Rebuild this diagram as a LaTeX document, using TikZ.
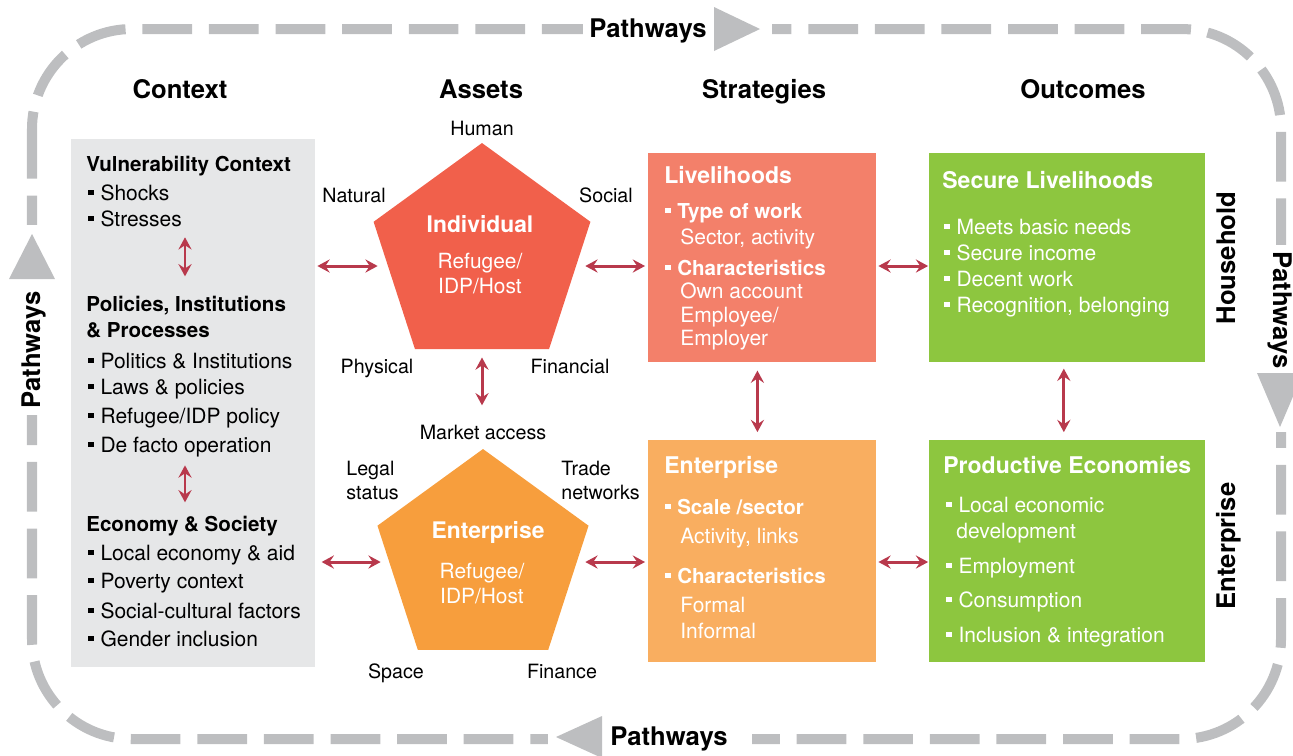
\documentclass[tikz,border=0pt]{standalone}
\usepackage{fontspec}
\setmainfont{TeX Gyre Heros}
\usetikzlibrary{shapes.geometric,arrows.meta}

\definecolor{framegray}{HTML}{BDBEC0}
\definecolor{ctxgray}{HTML}{E6E7E8}
\definecolor{indred}{HTML}{F1604B}
\definecolor{entorange}{HTML}{F79E3D}
\definecolor{livsalmon}{HTML}{F3806A}
\definecolor{entlight}{HTML}{F9AE60}
\definecolor{outgreen}{HTML}{8DC63F}
\definecolor{arrowred}{HTML}{B8394C}

\newcommand\bul{\makebox[0.58em][l]{\rule[0.24em]{0.25em}{0.24em}}}

\tikzset{
  frame/.style={draw=framegray, line width=5.7pt, dash pattern=on 28.3pt off 9.6pt},
  hdr/.style={font=\fontsize{14.6}{17}\selectfont\bfseries, anchor=base, inner sep=0pt},
  box/.style={anchor=north west, inner sep=0pt, draw=none},
  pent/.style={regular polygon, regular polygon sides=5, inner sep=0pt, draw=none},
  lbl/.style={font=\fontsize{11.2}{13}\selectfont, anchor=base, inner sep=0pt},
  txt/.style={font=\fontsize{11.95}{14}\selectfont, anchor=base west, inner sep=0pt},
  ctxttl/.style={txt, font=\fontsize{11.7}{14}\selectfont\bfseries},
  wtxt/.style={txt, text=white},
  wbold/.style={wtxt, font=\fontsize{11.7}{14}\selectfont\bfseries},
  wttl/.style={wtxt, font=\fontsize{13.1}{15}\selectfont\bfseries},
  ptxt/.style={font=\fontsize{11.9}{14}\selectfont, text=white, anchor=base, inner sep=0pt},
  pttl/.style={ptxt, font=\fontsize{13}{15}\selectfont\bfseries},
  dbl/.style={draw=arrowred, line width=1.7pt,
    {Stealth[length=7pt,width=7.5pt,inset=2.5pt]}-{Stealth[length=7pt,width=7.5pt,inset=2.5pt]}},
}

\begin{document}
\begin{tikzpicture}[x=0.02cm, y=-0.02cm]
  \useasboundingbox (0,0) rectangle (1293,755);

  % pathways frame
  \draw[frame, rounded corners=2cm] (32,29) rectangle (1281,739);
  \fill[white] (583,18) rectangle (772,40);
  \fill[white] (548,728) rectangle (752,750);
  \fill[white] (21,225) rectangle (43,415);
  \fill[white] (1270,245) rectangle (1292,432);
  \fill[framegray] (714,7) -- (760,29) -- (714,51) -- cycle;
  \fill[framegray] (556,737) -- (602,716) -- (602,758) -- cycle;
  \fill[framegray] (32,234) -- (55,279) -- (9,279) -- cycle;
  \fill[framegray] (1257,373) -- (1303,373) -- (1280,427) -- cycle;
  \node[hdr] (pwtop) at (648,37) {Pathways};
  \node[hdr] (pwbot) at (669,745) {Pathways};
  \node[hdr, rotate=90] (pwleft) at (40,350) {Pathways};
  \node[hdr, rotate=-90] (pwright) at (1273,310) {Pathways};

  % column headers
  \node[hdr] (hctx) at (180,98) {Context};
  \node[hdr] (hast) at (481,98) {Assets};
  \node[hdr] (hstr) at (764,98) {Strategies};
  \node[hdr] (hout) at (1083,98) {Outcomes};
  \node[hdr, rotate=90] (hhh) at (1235,258) {Household};
  \node[hdr, rotate=90] (hent) at (1235,546) {Enterprise};

  % context
  \node[box, fill=ctxgray, minimum width=4.88cm, minimum height=10.56cm] (ctx) at (71,139) {};
  \node[ctxttl] (vc) at (86,171) {Vulnerability Context};
  \foreach \t [count=\i] in {Shocks, Stresses}
    \node[txt] (vc-\i) at (88,{200+26*(\i-1)}) {\bul\t};
  \node[ctxttl] (pip) at (86,311) {Policies, Institutions};
  \node[ctxttl] (pip2) at (86,337) {\& Processes};
  \foreach \t/\y [count=\i] in {Politics \& Institutions/368, Laws \& policies/394,
      {Refugee/IDP policy}/423, De facto operation/452}
    \node[txt] (pi-\i) at (88,\y) {\bul\t};
  \node[ctxttl] (eco) at (86,531) {Economy \& Society};
  \foreach \t/\y [count=\i] in {Local economy \& aid/560, Poverty context/588,
      Social-cultural factors/618, Gender inclusion/646}
    \node[txt] (ec-\i) at (88,\y) {\bul\t};

  % assets
  \node[pent, fill=indred, minimum size=4.56cm] (ind) at (482,257) {};
  \node[pttl] (indt) at (480,232) {Individual};
  \node[ptxt] (ind1) at (480,268) {Refugee/};
  \node[ptxt] (ind2) at (480,293) {IDP/Host};
  \node[lbl] (human) at (482,135) {Human};
  \node[lbl] (natural) at (354,202) {Natural};
  \node[lbl] (social) at (606,202) {Social};
  \node[lbl] (physical) at (377,373) {Physical};
  \node[lbl] (financial) at (570,373) {Financial};

  \node[pent, fill=entorange, minimum size=4.44cm] (entp) at (483,560) {};
  \node[pttl] (entt) at (488,538) {Enterprise};
  \node[ptxt] (ent1) at (482,578) {Refugee/};
  \node[ptxt] (ent2) at (482,603) {IDP/Host};
  \node[lbl] (mkt) at (483,439) {Market access};
  \node[lbl, anchor=base west] (legal) at (346,475) {Legal};
  \node[lbl, anchor=base west] (legal2) at (346,499) {status};
  \node[lbl, anchor=base west] (trade) at (561,475) {Trade};
  \node[lbl, anchor=base west] (trade2) at (561,499) {networks};
  \node[lbl] (space) at (396,678) {Space};
  \node[lbl] (finance) at (562,678) {Finance};

  % strategies
  \node[box, fill=livsalmon, minimum width=4.56cm, minimum height=4.18cm] (liv) at (648,153) {};
  \node[wttl] (livt) at (664,183) {Livelihoods};
  \node[wbold] (liv1) at (665,218) {\bul Type of work};
  \node[wtxt] (liv2) at (680,244) {Sector, activity};
  \node[wbold] (liv3) at (665,275) {\bul Characteristics};
  \node[wtxt] (liv4) at (680,298) {Own account};
  \node[wtxt] (liv5) at (680,322) {Employee/};
  \node[wtxt] (liv6) at (680,345) {Employer};

  \node[box, fill=entlight, minimum width=4.56cm, minimum height=4.44cm] (ent) at (648,440) {};
  \node[wttl] (entbt) at (664,473) {Enterprise};
  \node[wbold] (ent3) at (665,514) {\bul Scale /sector};
  \node[wtxt] (ent4) at (680,543) {Activity, links};
  \node[wbold] (ent5) at (665,583) {\bul Characteristics};
  \node[wtxt] (ent6) at (680,612) {Formal};
  \node[wtxt] (ent7) at (680,638) {Informal};

  % outcomes
  \node[box, fill=outgreen, minimum width=5.52cm, minimum height=4.18cm] (sec) at (929,153) {};
  \node[wttl] (sect) at (942,188) {Secure Livelihoods};
  \foreach \t [count=\i] in {Meets basic needs, Secure income, Decent work, {Recognition, belonging}}
    \node[wtxt] (sec-\i) at (944,{234+26*(\i-1)}) {\bul\t};

  \node[box, fill=outgreen, minimum width=5.52cm, minimum height=4.44cm] (prod) at (929,440) {};
  \node[wttl] (prodt) at (943,473) {Productive Economies};
  \node[wtxt] (prod1) at (946,512) {\bul Local economic};
  \node[wtxt] (prod2) at (956,538) {development};
  \foreach \t/\y [count=\i from 3] in {Employment/573, Consumption/607, Inclusion \& integration/642}
    \node[wtxt] (prod\i) at (946,\y) {\bul\t};

  % connectors
  \coordinate (row1) at (0,266);
  \coordinate (row2) at (0,562);
  \coordinate (ctxarr) at (185,0);
  \draw[dbl, shorten <=6pt, shorten >=10.8pt] (vc-2.south -| ctxarr) -- (pip.north -| ctxarr);
  \draw[dbl, shorten <=4.8pt, shorten >=7.4pt] (pi-4.south -| ctxarr) -- (eco.north -| ctxarr);
  \draw[dbl, shorten <=1pt, shorten >=4pt] (ctx.east |- row1) -- (ind.west |- row1);
  \draw[dbl, shorten <=3.4pt, shorten >=1.7pt] (ind.east |- row1) -- (liv.west |- row1);
  \draw[dbl, shorten <=1pt, shorten >=0.5pt] (liv.east |- row1) -- (sec.west |- row1);
  \draw[dbl, shorten <=3.4pt, shorten >=4.3pt] (ctx.east |- row2) -- (entp.west |- row2);
  \draw[dbl, shorten <=4.3pt, shorten >=1.7pt] (entp.east |- row2) -- (ent.west |- row2);
  \draw[dbl, shorten <=1pt, shorten >=0.5pt] (ent.east |- row2) -- (prod.west |- row2);
  \draw[dbl, shorten <=4.5pt, shorten >=10.8pt] (ind.south) -- (ind.south |- mkt.north);
  \draw[dbl, shorten <=4.5pt, shorten >=4.5pt] ([xshift=-2.8pt]liv.south) -- ([xshift=-2.8pt]ent.north);
  \draw[dbl, shorten <=3.4pt, shorten >=4.5pt] ([xshift=-2pt]sec.south) -- ([xshift=-2pt]prod.north);
\end{tikzpicture}
\end{document}
